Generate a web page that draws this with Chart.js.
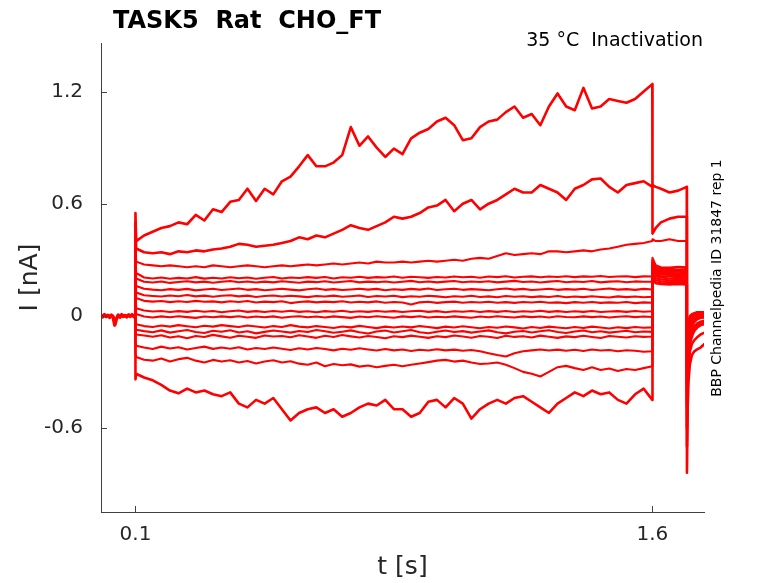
<!DOCTYPE html>
<html>
<head>
<meta charset="utf-8">
<script src="https://cdn.jsdelivr.net/npm/chart.js@4.4.0/dist/chart.umd.min.js"></script>
<style>
  html, body { margin: 0; padding: 0; background: #fff; }
  #wrap { width: 778px; height: 583px; }
</style>
</head>
<body>
<div id="wrap"><canvas id="chart"></canvas></div>
<script>
// time axis (s)
const xTicks = [0.1, 1.6];
const yTicks = [-0.6, 0, 0.6, 1.2];

const tHold = [0, 0.005, 0.01, 0.015, 0.02, 0.025, 0.03, 0.035, 0.04, 0.045, 0.05,
  0.055, 0.06, 0.065, 0.07, 0.075, 0.08, 0.085, 0.09, 0.095, 0.1];
const holdCurrent = [0.002, -0.006, 0.006, -0.004, 0.003, -0.008, 0.004, -0.004, -0.05, -0.015, 0.004,
  -0.007, 0.006, -0.004, 0.002, -0.006, 0.005, -0.003, 0.006, -0.005, 0.0];

const tPulse = [0.1, 0.102,
  0.125, 0.15, 0.175, 0.2, 0.225, 0.25, 0.275, 0.3, 0.325, 0.35,
  0.375, 0.4, 0.425, 0.45, 0.475, 0.5, 0.525, 0.55, 0.575, 0.6,
  0.625, 0.65, 0.675, 0.7, 0.725, 0.75, 0.775, 0.8, 0.825, 0.85,
  0.875, 0.9, 0.925, 0.95, 0.975, 1.0, 1.025, 1.05, 1.075, 1.1,
  1.125, 1.15, 1.175, 1.2, 1.225, 1.25, 1.275, 1.3, 1.325, 1.35,
  1.375, 1.4, 1.425, 1.45, 1.475, 1.5, 1.525, 1.55, 1.575, 1.6];
const tAfter = [1.6005, 1.61, 1.625, 1.65, 1.675, 1.7];
const tTail = [1.7005, 1.7025, 1.705, 1.709, 1.715, 1.722, 1.73, 1.74, 1.752];

// current during the conditioning pulse (nA), one sweep per array, top to bottom
const pulseSweep1 = [0.55, 0.40,
  0.43, 0.45, 0.47, 0.48, 0.50, 0.49, 0.54, 0.51, 0.57, 0.555,
  0.61, 0.62, 0.68, 0.615, 0.68, 0.65, 0.72, 0.745, 0.80, 0.86,
  0.80, 0.80, 0.82, 0.86, 1.01, 0.91, 0.96, 0.90, 0.85, 0.895,
  0.865, 0.95, 0.98, 1.00, 1.04, 1.06, 1.02, 0.94, 0.95, 1.01,
  1.04, 1.05, 1.09, 1.12, 1.06, 1.08, 1.02, 1.12, 1.19, 1.12,
  1.10, 1.22, 1.11, 1.12, 1.16, 1.15, 1.14, 1.16, 1.20, 1.24];
const pulseSweep2 = [0.50, 0.36,
  0.34, 0.335, 0.34, 0.33, 0.345, 0.34, 0.35, 0.345, 0.355, 0.36,
  0.37, 0.385, 0.38, 0.37, 0.375, 0.38, 0.39, 0.40, 0.42, 0.41,
  0.43, 0.42, 0.44, 0.46, 0.485, 0.47, 0.46, 0.48, 0.50, 0.53,
  0.52, 0.53, 0.55, 0.58, 0.59, 0.62, 0.56, 0.60, 0.62, 0.57,
  0.60, 0.62, 0.65, 0.68, 0.66, 0.66, 0.70, 0.68, 0.66, 0.62,
  0.68, 0.70, 0.73, 0.735, 0.69, 0.66, 0.70, 0.71, 0.72, 0.69];
const pulseSweep3 = [0.40, 0.29,
  0.275, 0.27, 0.265, 0.27, 0.265, 0.26, 0.265, 0.26, 0.27, 0.265,
  0.26, 0.265, 0.27, 0.265, 0.26, 0.265, 0.27, 0.265, 0.27, 0.275,
  0.27, 0.275, 0.28, 0.275, 0.28, 0.285, 0.28, 0.29, 0.285, 0.285,
  0.29, 0.285, 0.29, 0.295, 0.29, 0.295, 0.30, 0.295, 0.305, 0.31,
  0.305, 0.32, 0.335, 0.325, 0.33, 0.335, 0.33, 0.345, 0.345, 0.34,
  0.345, 0.35, 0.345, 0.355, 0.36, 0.37, 0.38, 0.385, 0.39, 0.40];
const pulseSweep4 = [0.35, 0.23,
  0.205, 0.20, 0.205, 0.198, 0.203, 0.20, 0.207, 0.199, 0.204, 0.20,
  0.206, 0.201, 0.205, 0.198, 0.204, 0.208, 0.2, 0.205, 0.202, 0.207,
  0.203, 0.208, 0.2, 0.206, 0.204, 0.209, 0.203, 0.207, 0.205, 0.21,
  0.204, 0.209, 0.206, 0.203, 0.208, 0.205, 0.21, 0.206, 0.209, 0.204,
  0.21, 0.207, 0.212, 0.205, 0.209, 0.211, 0.206, 0.21, 0.208, 0.212,
  0.207, 0.211, 0.209, 0.213, 0.208, 0.21, 0.212, 0.207, 0.211, 0.21];
const pulseSweep5 = [0.32, 0.2,
  0.182, 0.178, 0.184, 0.176, 0.181, 0.185, 0.179, 0.183, 0.177, 0.182,
  0.186, 0.18, 0.184, 0.178, 0.183, 0.179, 0.185, 0.181, 0.177, 0.183,
  0.18, 0.185, 0.178, 0.182, 0.186, 0.179, 0.183, 0.18, 0.184, 0.178,
  0.182, 0.187, 0.18, 0.184, 0.179, 0.183, 0.186, 0.18, 0.184, 0.181,
  0.185, 0.179, 0.183, 0.187, 0.181, 0.184, 0.178, 0.183, 0.186, 0.18,
  0.184, 0.181, 0.186, 0.179, 0.183, 0.185, 0.18, 0.184, 0.182, 0.183];
const pulseSweep6 = [0.28, 0.16,
  0.145, 0.14, 0.137, 0.143, 0.139, 0.144, 0.136, 0.141, 0.145, 0.138,
  0.142, 0.146, 0.139, 0.143, 0.137, 0.141, 0.145, 0.14, 0.136, 0.142,
  0.146, 0.139, 0.143, 0.138, 0.141, 0.145, 0.14, 0.144, 0.137, 0.142,
  0.139, 0.144, 0.14, 0.146, 0.138, 0.142, 0.145, 0.139, 0.143, 0.14,
  0.137, 0.142, 0.146, 0.14, 0.144, 0.138, 0.141, 0.145, 0.139, 0.143,
  0.14, 0.145, 0.138, 0.142, 0.146, 0.14, 0.143, 0.139, 0.144, 0.141];
const pulseSweep7 = [0.25, 0.125,
  0.11, 0.106, 0.103, 0.109, 0.105, 0.111, 0.104, 0.108, 0.102, 0.107,
  0.11, 0.104, 0.108, 0.101, 0.106, 0.109, 0.103, 0.107, 0.104, 0.1,
  0.106, 0.103, 0.108, 0.102, 0.105, 0.109, 0.101, 0.106, 0.103, 0.107,
  0.1, 0.105, 0.102, 0.107, 0.104, 0.099, 0.105, 0.102, 0.107, 0.101,
  0.104, 0.099, 0.106, 0.102, 0.105, 0.1, 0.104, 0.101, 0.106, 0.099,
  0.103, 0.1, 0.105, 0.101, 0.098, 0.104, 0.1, 0.103, 0.099, 0.102];
const pulseSweep8 = [0.22, 0.095,
  0.08, 0.076, 0.079, 0.073, 0.078, 0.074, 0.08, 0.075, 0.077, 0.072,
  0.078, 0.074, 0.079, 0.071, 0.076, 0.073, 0.078, 0.068, 0.074, 0.077,
  0.072, 0.076, 0.073, 0.078, 0.071, 0.075, 0.072, 0.077, 0.07, 0.074,
  0.071, 0.06, 0.072, 0.075, 0.069, 0.073, 0.076, 0.07, 0.074, 0.071,
  0.075, 0.07, 0.073, 0.069, 0.074, 0.071, 0.075, 0.07, 0.072, 0.068,
  0.073, 0.07, 0.074, 0.069, 0.072, 0.07, 0.074, 0.068, 0.072, 0.07];
const pulseSweep9 = [0.16, 0.04,
  0.028, 0.023, 0.026, 0.02, 0.025, 0.021, 0.027, 0.022, 0.026, 0.019,
  0.024, 0.028, 0.021, 0.025, 0.02, 0.026, 0.022, 0.027, 0.021, 0.024,
  0.019, 0.025, 0.022, 0.027, 0.02, 0.024, 0.021, 0.026, 0.022, 0.025,
  0.02, 0.024, 0.027, 0.021, 0.025, 0.019, 0.024, 0.022, 0.026, 0.02,
  0.025, 0.021, 0.026, 0.02, 0.024, 0.022, 0.027, 0.021, 0.025, 0.02,
  0.024, 0.021, 0.026, 0.02, 0.023, 0.025, 0.021, 0.026, 0.022, 0.024];
const pulseSweep10 = [0.1, 0.01,
  -0.004, -0.009, -0.003, -0.008, -0.002, -0.007, -0.011, -0.004, -0.008, -0.003,
  -0.007, -0.002, -0.009, -0.004, -0.008, -0.003, -0.01, -0.005, -0.002, -0.008,
  -0.004, -0.009, -0.003, -0.007, -0.011, -0.004, -0.008, -0.002, -0.006, -0.01,
  -0.003, -0.007, -0.002, -0.009, -0.005, -0.008, -0.003, -0.007, -0.01, -0.004,
  -0.008, -0.002, -0.006, -0.009, -0.003, -0.007, -0.004, -0.009, -0.002, -0.006,
  -0.008, -0.003, -0.007, -0.004, -0.009, -0.005, -0.002, -0.007, -0.004, -0.006];
const pulseSweep11 = [-0.02, -0.045,
  -0.055, -0.06, -0.052, -0.058, -0.05, -0.056, -0.061, -0.053, -0.058, -0.05,
  -0.055, -0.06, -0.052, -0.057, -0.063, -0.055, -0.06, -0.05, -0.058, -0.062,
  -0.055, -0.06, -0.065, -0.057, -0.062, -0.054, -0.06, -0.066, -0.058, -0.063,
  -0.057, -0.062, -0.055, -0.06, -0.066, -0.058, -0.063, -0.056, -0.061, -0.067,
  -0.06, -0.064, -0.057, -0.062, -0.068, -0.06, -0.065, -0.058, -0.063, -0.067,
  -0.06, -0.065, -0.058, -0.063, -0.068, -0.061, -0.066, -0.06, -0.064, -0.062];
const pulseSweep12 = [-0.05, -0.075,
  -0.082, -0.088, -0.078, -0.09, -0.083, -0.076, -0.087, -0.092, -0.08, -0.085,
  -0.077, -0.089, -0.083, -0.094, -0.086, -0.079, -0.084, -0.09, -0.081, -0.087,
  -0.076, -0.083, -0.091, -0.085, -0.078, -0.088, -0.095, -0.084, -0.079, -0.089,
  -0.083, -0.076, -0.088, -0.093, -0.085, -0.079, -0.087, -0.082, -0.09, -0.084,
  -0.078, -0.088, -0.094, -0.085, -0.081, -0.089, -0.083, -0.077, -0.087, -0.092,
  -0.084, -0.079, -0.088, -0.083, -0.09, -0.085, -0.08, -0.088, -0.084, -0.086];
const pulseSweep13 = [-0.08, -0.1,
  -0.105, -0.112, -0.104, -0.116, -0.109, -0.12, -0.108, -0.113, -0.102, -0.11,
  -0.117, -0.107, -0.112, -0.118, -0.105, -0.111, -0.108, -0.115, -0.104, -0.111,
  -0.118, -0.107, -0.113, -0.103, -0.11, -0.116, -0.108, -0.113, -0.12, -0.109,
  -0.114, -0.106, -0.112, -0.118, -0.109, -0.114, -0.105, -0.111, -0.117, -0.108,
  -0.112, -0.119, -0.107, -0.113, -0.109, -0.116, -0.106, -0.112, -0.118, -0.11,
  -0.114, -0.107, -0.113, -0.119, -0.108, -0.112, -0.116, -0.109, -0.113, -0.111];
const pulseSweep14 = [-0.14, -0.16,
  -0.17, -0.178, -0.165, -0.175, -0.168, -0.18, -0.172, -0.165, -0.177, -0.17,
  -0.176, -0.168, -0.18, -0.172, -0.178, -0.17, -0.176, -0.183, -0.174, -0.18,
  -0.172, -0.178, -0.185, -0.176, -0.182, -0.174, -0.18, -0.186, -0.178, -0.185,
  -0.18, -0.188, -0.182, -0.186, -0.179, -0.185, -0.181, -0.187, -0.183, -0.19,
  -0.2, -0.21, -0.218, -0.2, -0.19, -0.185, -0.18, -0.186, -0.181, -0.187,
  -0.182, -0.188, -0.18, -0.186, -0.183, -0.19, -0.184, -0.187, -0.192, -0.19];
const pulseSweep15 = [-0.2, -0.22,
  -0.235, -0.24, -0.228, -0.245, -0.232, -0.225, -0.24, -0.25, -0.236, -0.245,
  -0.238, -0.25, -0.242, -0.255, -0.245, -0.238, -0.25, -0.243, -0.256, -0.262,
  -0.25, -0.27, -0.258, -0.265, -0.26, -0.272, -0.266, -0.275, -0.268, -0.262,
  -0.27, -0.262, -0.255, -0.248, -0.24, -0.236, -0.245, -0.24, -0.25, -0.258,
  -0.255, -0.25, -0.262, -0.28, -0.3, -0.31, -0.325, -0.3, -0.275, -0.268,
  -0.28, -0.29, -0.275, -0.29, -0.282, -0.295, -0.285, -0.29, -0.28, -0.27];
const pulseSweep16 = [-0.34, -0.31,
  -0.33, -0.345, -0.37, -0.4, -0.415, -0.39, -0.41, -0.40, -0.42, -0.43,
  -0.41, -0.47, -0.49, -0.45, -0.47, -0.44, -0.5, -0.56, -0.52, -0.50,
  -0.49, -0.52, -0.5, -0.54, -0.52, -0.49, -0.47, -0.48, -0.45, -0.5,
  -0.5, -0.54, -0.52, -0.46, -0.45, -0.49, -0.44, -0.47, -0.55, -0.5,
  -0.47, -0.45, -0.47, -0.44, -0.43, -0.46, -0.49, -0.52, -0.47, -0.44,
  -0.41, -0.43, -0.4, -0.42, -0.41, -0.45, -0.47, -0.42, -0.39, -0.45];

// test step after the pulse (nA), one row per sweep
const afterLevels = [
  [0.44, 0.47, 0.50, 0.52, 0.53, 0.53],
  [0.70, 0.69, 0.68, 0.66, 0.67, 0.69],
  [0.41, 0.40, 0.40, 0.41, 0.40, 0.40],
  [0.31, 0.27, 0.26, 0.258, 0.262, 0.26],
  [0.30, 0.26, 0.25, 0.252, 0.248, 0.25],
  [0.29, 0.25, 0.245, 0.24, 0.243, 0.24],
  [0.28, 0.245, 0.238, 0.235, 0.237, 0.235],
  [0.27, 0.24, 0.232, 0.23, 0.228, 0.23],
  [0.26, 0.235, 0.226, 0.222, 0.225, 0.222],
  [0.25, 0.228, 0.22, 0.218, 0.215, 0.218],
  [0.24, 0.22, 0.212, 0.21, 0.208, 0.21],
  [0.23, 0.21, 0.205, 0.2, 0.203, 0.2],
  [0.22, 0.2, 0.195, 0.19, 0.193, 0.19],
  [0.21, 0.19, 0.185, 0.18, 0.182, 0.18],
  [0.2, 0.18, 0.175, 0.172, 0.174, 0.17],
  [0.19, 0.175, 0.17, 0.168, 0.17, 0.168]
];

// tail currents after the step back (nA), one row per sweep
const tailValues = [
  [-0.84, -0.5, -0.35, -0.26, -0.21, -0.19, -0.18, -0.17, -0.15],
  [-0.6, -0.35, -0.22, -0.15, -0.11, -0.08, -0.06, -0.05, -0.04],
  [-0.5, -0.3, -0.18, -0.12, -0.09, -0.07, -0.05, -0.04, -0.03],
  [-0.3, -0.1, -0.03, 0.0, 0.01, 0.015, 0.02, 0.02, 0.02],
  [-0.32, -0.12, -0.04, -0.005, 0.008, 0.012, 0.018, 0.02, 0.018],
  [-0.34, -0.14, -0.05, -0.01, 0.005, 0.01, 0.015, 0.018, 0.015],
  [-0.36, -0.16, -0.06, -0.015, 0.0, 0.008, 0.012, 0.015, 0.012],
  [-0.38, -0.18, -0.07, -0.02, -0.003, 0.005, 0.01, 0.012, 0.01],
  [-0.4, -0.2, -0.09, -0.03, -0.01, 0.0, 0.005, 0.008, 0.006],
  [-0.42, -0.22, -0.11, -0.04, -0.015, -0.005, 0.0, 0.004, 0.002],
  [-0.44, -0.24, -0.13, -0.06, -0.025, -0.012, -0.005, 0.0, -0.002],
  [-0.46, -0.26, -0.15, -0.08, -0.04, -0.02, -0.012, -0.006, -0.008],
  [-0.48, -0.28, -0.17, -0.1, -0.06, -0.035, -0.02, -0.012, -0.01],
  [-0.5, -0.3, -0.19, -0.12, -0.08, -0.055, -0.04, -0.03, -0.025],
  [-0.55, -0.33, -0.22, -0.14, -0.1, -0.08, -0.065, -0.05, -0.045],
  [-0.7, -0.4, -0.27, -0.19, -0.15, -0.13, -0.115, -0.1, -0.09]
];

const pulseSweeps = [pulseSweep1, pulseSweep2, pulseSweep3, pulseSweep4, pulseSweep5, pulseSweep6,
  pulseSweep7, pulseSweep8, pulseSweep9, pulseSweep10, pulseSweep11, pulseSweep12,
  pulseSweep13, pulseSweep14, pulseSweep15, pulseSweep16];

const titleText = 'TASK5  Rat  CHO_FT';
const conditionText = '35 °C  Inactivation';
const sourceText = 'BBP Channelpedia ID 31847 rep 1';

function sweepPoints(idx) {
  const pts = [{x: tHold[tHold.length - 1], y: holdCurrent[holdCurrent.length - 1]}];
  tPulse.forEach((t, i) => pts.push({x: t, y: pulseSweeps[idx][i]}));
  tAfter.forEach((t, i) => pts.push({x: t, y: afterLevels[idx][i]}));
  tTail.forEach((t, i) => pts.push({x: t, y: tailValues[idx][i]}));
  return pts;
}

const datasets = [{
  data: tHold.map((t, i) => ({x: t, y: holdCurrent[i]})),
  borderColor: '#ff0000', borderWidth: 3.5, pointRadius: 0, showLine: true,
  borderJoinStyle: 'round'
}];
pulseSweeps.forEach((s, i) => {
  // noisier sweeps (top two and bottom) drawn a bit thicker
  const thick = (i < 2 || i === pulseSweeps.length - 1);
  datasets.push({
    data: sweepPoints(i),
    borderColor: '#ff0000', borderWidth: thick ? 2.6 : 2.1, pointRadius: 0, showLine: true,
    borderJoinStyle: 'round'
  });
});

// MATLAB-like inward tick marks
const inwardTicks = {
  id: 'inwardTicks',
  afterDraw(chart) {
    const {ctx, chartArea, scales} = chart;
    ctx.save();
    ctx.strokeStyle = '#404040';
    ctx.lineWidth = 1;
    ctx.beginPath();
    yTicks.forEach(v => {
      const y = Math.round(scales.y.getPixelForValue(v)) + 0.5;
      ctx.moveTo(chartArea.left, y);
      ctx.lineTo(chartArea.left + 6, y);
    });
    xTicks.forEach(v => {
      const x = Math.round(scales.x.getPixelForValue(v)) + 0.5;
      ctx.moveTo(x, chartArea.bottom);
      ctx.lineTo(x, chartArea.bottom - 6);
    });
    ctx.stroke();
    ctx.restore();
  }
};

const labels = {
  id: 'labels',
  afterDraw(chart) {
    const ctx = chart.ctx;
    ctx.save();
    ctx.fillStyle = '#000';
    ctx.textAlign = 'left';
    ctx.textBaseline = 'alphabetic';
    ctx.font = 'bold 24px "DejaVu Sans"';
    ctx.fillText(titleText, 113, 28);
    ctx.font = '19px "DejaVu Sans"';
    ctx.textAlign = 'right';
    ctx.fillText(conditionText, 703, 46);
    ctx.translate(717, 278);
    ctx.rotate(-Math.PI / 2);
    ctx.textAlign = 'center';
    ctx.textBaseline = 'middle';
    ctx.font = '14px "DejaVu Sans"';
    ctx.fillText(sourceText, 0, 0);
    ctx.restore();
  }
};

new Chart(document.getElementById('chart'), {
  type: 'scatter',
  data: {datasets},
  options: {
    responsive: true,
    maintainAspectRatio: false,
    animation: false,
    layout: {padding: {left: 0, right: 74, top: 43, bottom: 0}},
    plugins: {legend: {display: false}, tooltip: {enabled: false}},
    elements: {line: {tension: 0}},
    scales: {
      x: {
        type: 'linear', min: 0, max: 1.75,
        grid: {display: false, drawTicks: false},
        border: {display: true, color: '#404040', width: 1},
        afterBuildTicks: s => { s.ticks = xTicks.map(v => ({value: v})); },
        afterFit: s => { s.height = 71; },
        ticks: {color: '#262626', font: {family: 'DejaVu Sans', size: 20}, padding: 11,
          callback: v => String(v)},
        title: {display: true, text: 't [s]', color: '#262626',
          font: {family: 'DejaVu Sans', size: 25}, padding: {top: 0, bottom: 1}}
      },
      y: {
        type: 'linear', min: -1.05, max: 1.46,
        grid: {display: false, drawTicks: false},
        border: {display: true, color: '#404040', width: 1},
        afterBuildTicks: s => { s.ticks = yTicks.map(v => ({value: v})); },
        afterFit: s => { s.width = 101; },
        ticks: {color: '#262626', font: {family: 'DejaVu Sans', size: 20}, padding: 18,
          callback: v => String(v)},
        title: {display: true, text: 'I [nA]', color: '#262626',
          font: {family: 'DejaVu Sans', size: 25}, padding: {top: 15, bottom: 0}}
      }
    }
  },
  plugins: [inwardTicks, labels]
});
</script>
</body>
</html>
